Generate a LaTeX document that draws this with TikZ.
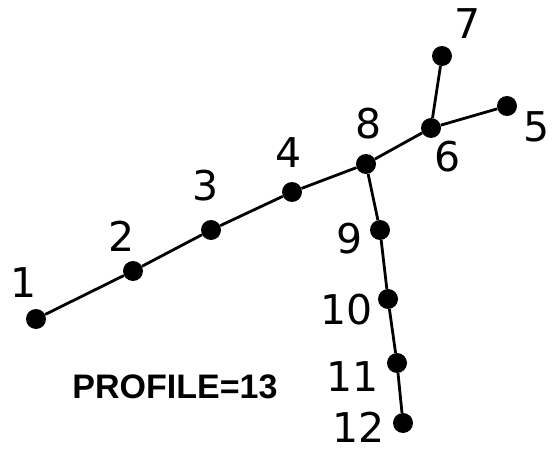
\documentclass[tikz,border=0pt]{standalone}
\usepackage{fontspec}
\setmainfont{DejaVu Sans}
\newfontfamily\profilefont{Liberation Sans}

\begin{document}
\begin{tikzpicture}[x=1pt, y=-1pt,
  dot/.style={circle, fill=black, inner sep=0pt, minimum size=20pt},
  num/.style={font=\fontsize{41}{41}\selectfont, inner sep=0pt},
  link/.style={line width=2.8pt}]
  \useasboundingbox (0,0) rectangle (552,452);

  % Graph nodes
  \node[dot] (n1)  at (36,319)  {};
  \node[dot] (n2)  at (133,271) {};
  \node[dot] (n3)  at (211,230) {};
  \node[dot] (n4)  at (292,192) {};
  \node[dot] (n8)  at (366,164) {};
  \node[dot] (n6)  at (431,128) {};
  \node[dot] (n7)  at (442,56)  {};
  \node[dot] (n5)  at (507,106) {};
  \node[dot] (n9)  at (380,230) {};
  \node[dot] (n10) at (388,299) {};
  \node[dot] (n11) at (397,363) {};
  \node[dot] (n12) at (403,423) {};

  % Edges
  \draw[link] (n1) -- (n2) -- (n3) -- (n4) -- (n8) -- (n6) -- (n5);
  \draw[link] (n6) -- (n7);
  \draw[link] (n8) -- (n9) -- (n10) -- (n11) -- (n12);

  % Numbering
  \node[num] (l1)  at (24,283)  {1};
  \node[num] (l2)  at (122,236) {2};
  \node[num] (l3)  at (206,186) {3};
  \node[num] (l4)  at (289,153) {4};
  \node[num] (l8)  at (369,124) {8};
  \node[num] (l6)  at (448,157) {6};
  \node[num] (l7)  at (468,24)  {7};
  \node[num] (l5)  at (537,127) {5};
  \node[num] (l9)  at (350,239) {9};
  \node[num] (l10) at (347,310) {10};
  \node[num] (l11) at (353,377) {11};
  \node[num] (l12) at (359,427) {12};

  % Profile value
  \node[font=\profilefont\bfseries\fontsize{34}{34}\selectfont, inner sep=0pt]
    (profile) at (175,387) {PROFILE=13};
\end{tikzpicture}
\end{document}
